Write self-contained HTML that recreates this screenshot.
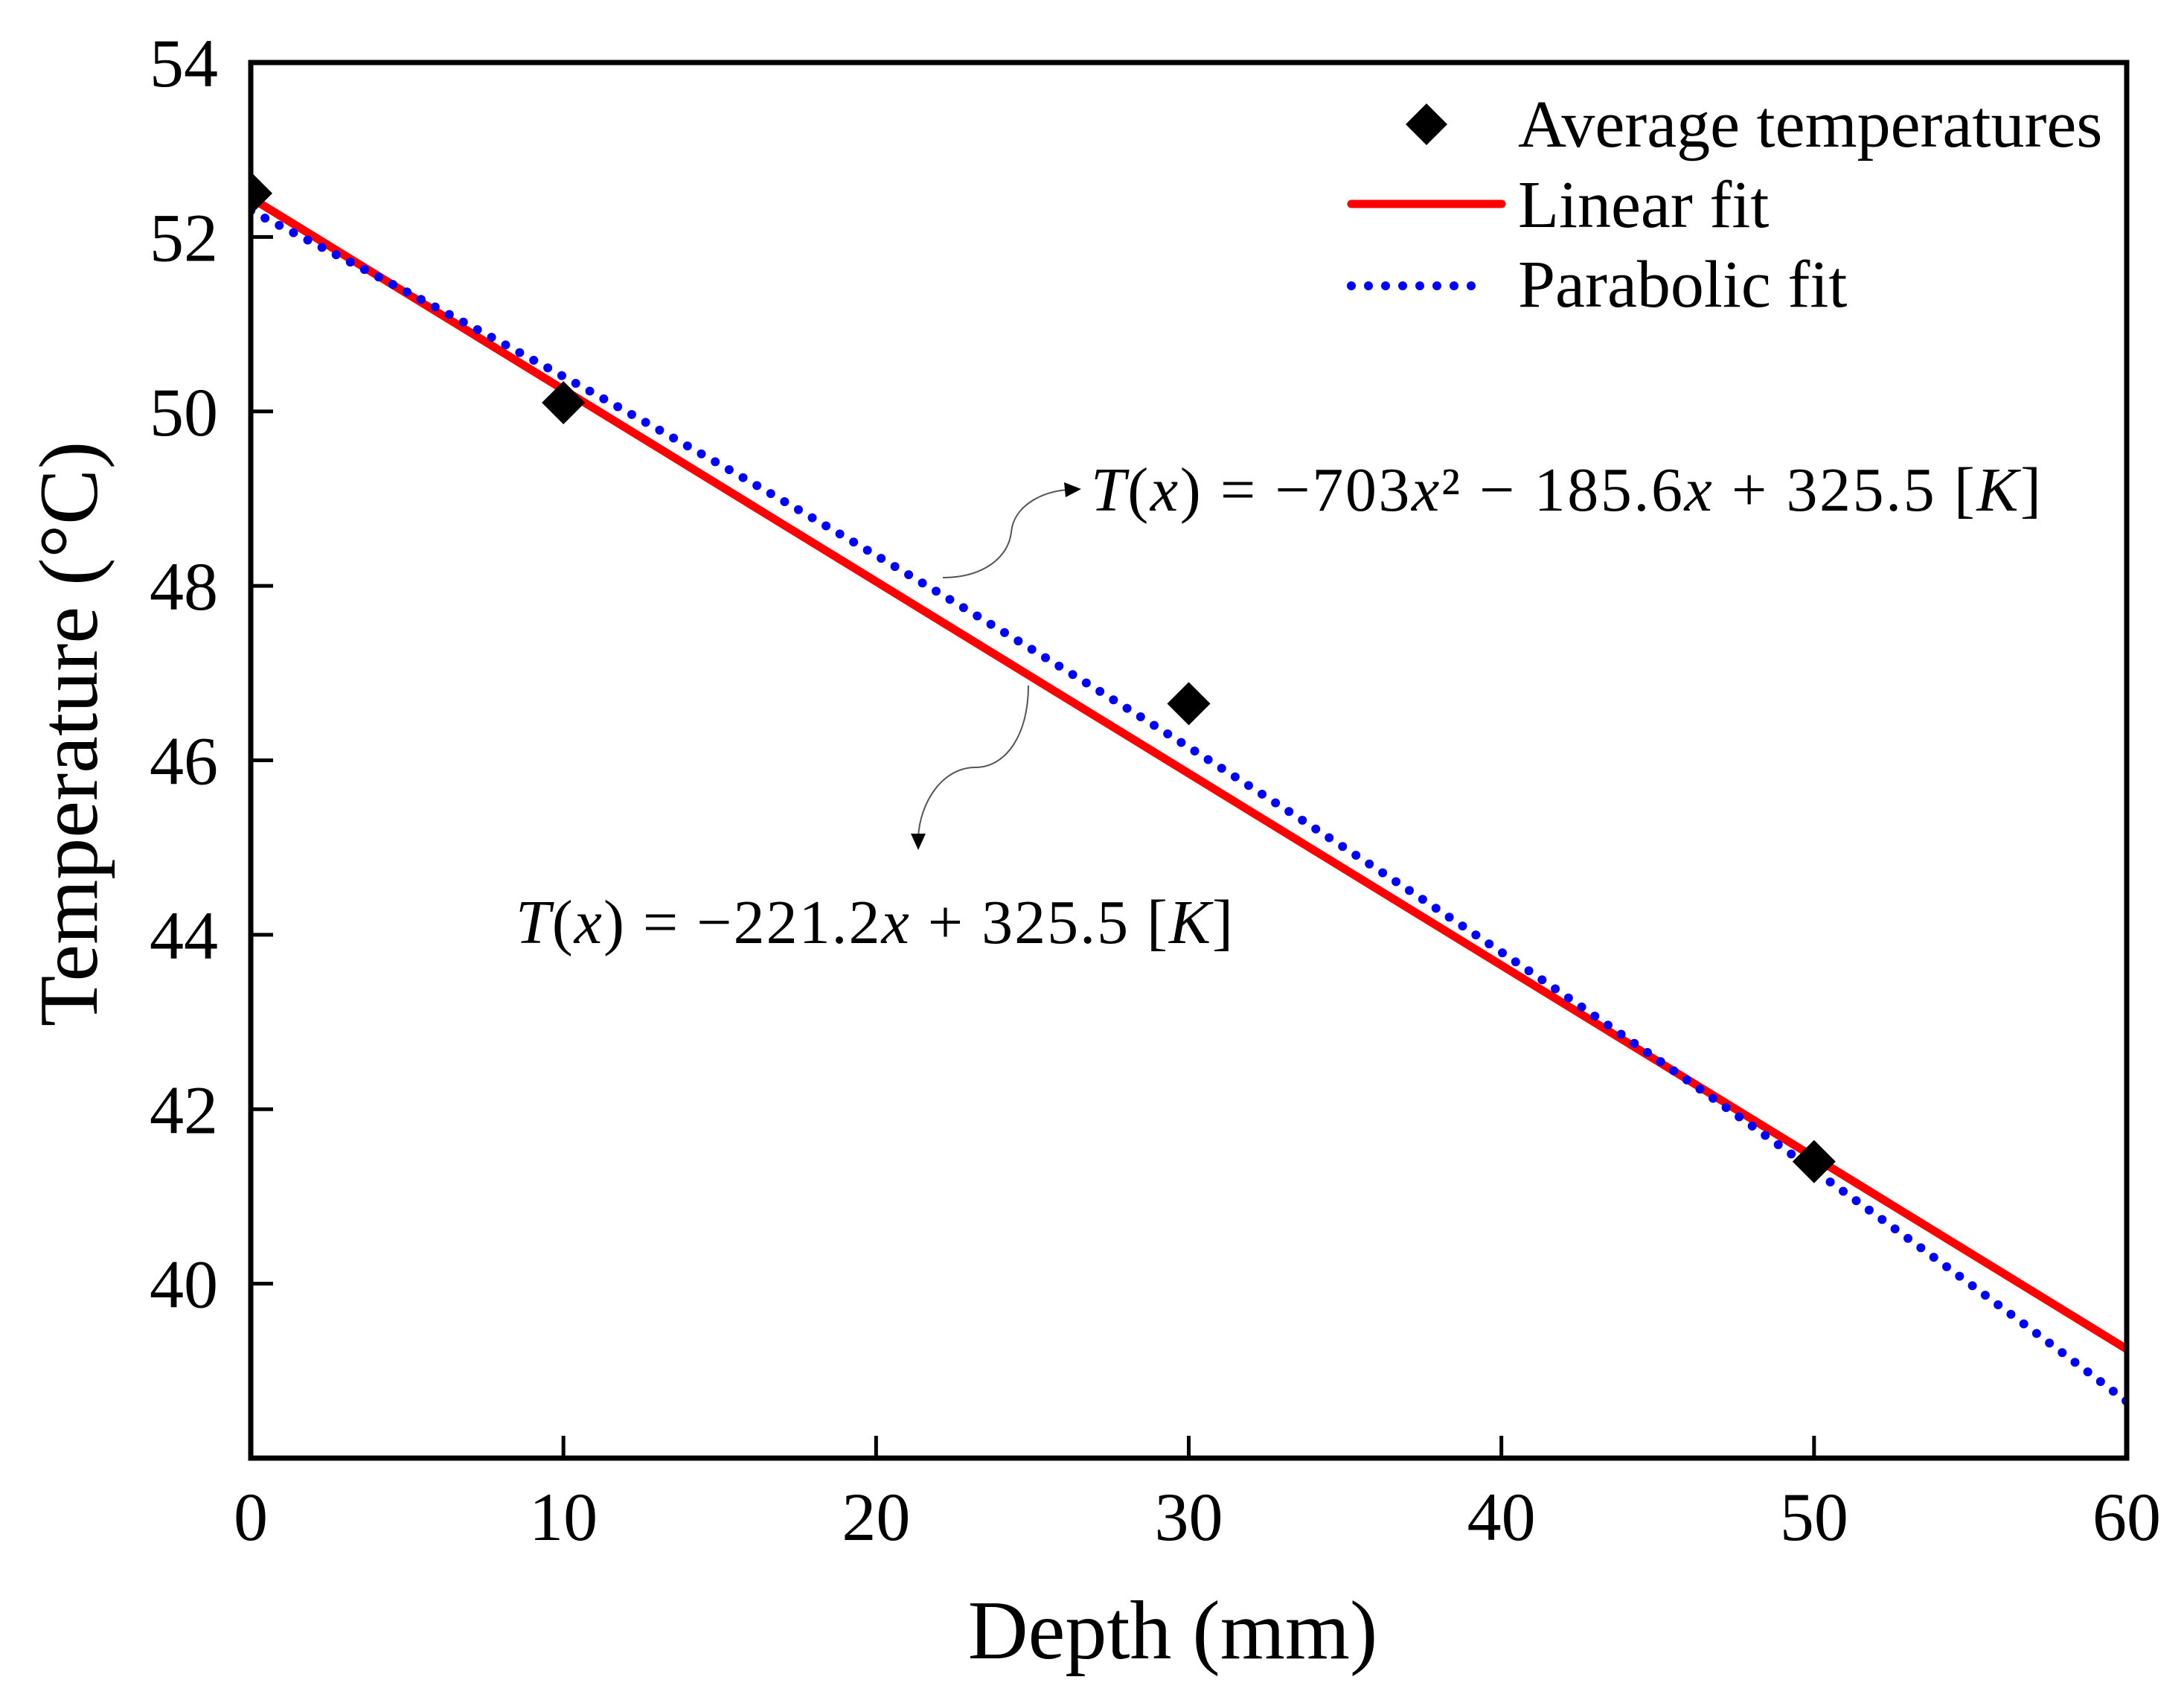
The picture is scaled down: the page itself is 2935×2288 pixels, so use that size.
<!DOCTYPE html>
<html><head><meta charset="utf-8"><style>
html,body{margin:0;padding:0;background:#fff;}
svg{display:block;font-family:"Liberation Serif",serif;}
</style></head><body>
<svg id="chart" width="2935" height="2288" viewBox="0 0 2935 2288" xmlns="http://www.w3.org/2000/svg">
<rect width="2935" height="2288" fill="#fff"/>
<g id="marks"></g>
<rect x="337" y="84" width="2521" height="1875" fill="none" stroke="#000" stroke-width="7"/>
<g id="ticks"></g>
<text x="1576" y="2228" font-size="112" text-anchor="middle">Depth (mm)</text>
<text transform="translate(130,986) rotate(-90)" font-size="112" text-anchor="middle">Temperature (°C)</text>
<g>
<path d="M1917,139 L1945,167 L1917,195 L1889,167 Z" fill="#000"/>
<text x="2040" y="197" font-size="90">Average temperatures</text>
<line x1="1816" y1="274" x2="2018" y2="274" stroke="#f00" stroke-width="11" stroke-linecap="round"/>
<text x="2040" y="305" font-size="90">Linear fit</text>
<line x1="1816" y1="384" x2="2000" y2="384" stroke="#00f" stroke-width="12" stroke-linecap="round" stroke-dasharray="0 23"/>
<text x="2040" y="412" font-size="90">Parabolic fit</text>
</g>
<g font-size="84">
<text x="1466" y="686" textLength="1277" lengthAdjust="spacing"><tspan font-style="italic">T</tspan>(<tspan font-style="italic">x</tspan>) = −703<tspan font-style="italic">x</tspan>² − 185.6<tspan font-style="italic">x</tspan> + 325.5 [<tspan font-style="italic">K</tspan>]</text>
<text x="693" y="1267" textLength="964" lengthAdjust="spacing"><tspan font-style="italic">T</tspan>(<tspan font-style="italic">x</tspan>) = −221.2<tspan font-style="italic">x</tspan> + 325.5 [<tspan font-style="italic">K</tspan>]</text>
<path d="M1267,776 C1320,776 1355,750 1359,715 C1362,680 1400,660 1435,658" fill="none" stroke="#555" stroke-width="2"/>
<path d="M1453,657 L1430,648 L1432,668 Z" fill="#000"/>
<path d="M1382,921 C1382,990 1350,1031 1311,1031 C1265,1031 1236,1080 1234,1125" fill="none" stroke="#555" stroke-width="2"/>
<path d="M1234,1142 L1224,1120 L1244,1120 Z" fill="#000"/>
</g>
</svg>
<script>
const xTicks = [0, 10, 20, 30, 40, 50, 60];
const yTicks = [40, 42, 44, 46, 48, 50, 52, 54];
const depths = [0, 10, 30, 50];
const temps = [52.5, 50.1, 46.65, 41.4];
const linearFit = [52.45, -0.22];
const parabolicFit = [52.3, -0.1825, -0.00075];
const X0 = 337, X1 = 2858, Y0 = 1959, Y1 = 84;
const xMin = 0, xMax = 60, yMin = 38, yMax = 54;
function sx(v){ return X0 + (v - xMin) / (xMax - xMin) * (X1 - X0); }
function sy(v){ return Y0 - (v - yMin) / (yMax - yMin) * (Y0 - Y1); }
const NS = 'http://www.w3.org/2000/svg';
const marks = document.getElementById('marks');
const ticks = document.getElementById('ticks');
function mk(tag, attrs, parent){ const e = document.createElementNS(NS, tag); for (const k in attrs) e.setAttribute(k, attrs[k]); parent.appendChild(e); return e; }
xTicks.forEach(t => {
  const l = mk('line', {x1: sx(t), x2: sx(t), y1: Y0, y2: Y0 - 30, stroke: '#000', 'stroke-width': 5}, ticks);
  
  
  const tx = mk('text', {x: sx(t), y: 2069, 'font-size': 92, 'text-anchor': 'middle'}, ticks);
  
  
  tx.textContent = t;
});
yTicks.forEach(t => {
  const l = mk('line', {x1: X0, x2: X0 + 30, y1: sy(t), y2: sy(t), stroke: '#000', 'stroke-width': 5}, ticks);
  
  
  const tx = mk('text', {x: 293, y: sy(t) + 32, 'font-size': 92, 'text-anchor': 'end'}, ticks);
  
  
  tx.textContent = t;
});
const defs = mk('defs', {}, marks);
const cp = mk('clipPath', {id: 'plotclip'}, defs);
mk('rect', {x: X0, y: Y1, width: X1 - X0, height: Y0 - Y1}, cp);
const g = mk('g', {'clip-path': 'url(#plotclip)'}, marks);
const lin = mk('line', {x1: sx(xMin), y1: sy(linearFit[0] + linearFit[1] * xMin), x2: sx(xMax), y2: sy(linearFit[0] + linearFit[1] * xMax), stroke: '#f00', 'stroke-width': 11}, g);


let d = '';
for (let i = 0; i <= 120; i++) {
  const x = xMin + (xMax - xMin) * i / 120;
  const y = parabolicFit[0] + parabolicFit[1] * x + parabolicFit[2] * x * x;
  d += (i ? 'L' : 'M') + sx(x).toFixed(1) + ',' + sy(y).toFixed(1);
}
const par = mk('path', {d: d, fill: 'none', stroke: '#00f', 'stroke-width': 12, 'stroke-linecap': 'round', 'stroke-dasharray': '0 21.5'}, g);


depths.forEach((x, i) => {
  const cx = sx(x), cy = sy(temps[i]), r = 29;
  const p = mk('path', {d: `M${cx},${cy - r} L${cx + r},${cy} L${cx},${cy + r} L${cx - r},${cy} Z`, fill: '#000'}, g);
  
  
});
</script>
</body></html>
